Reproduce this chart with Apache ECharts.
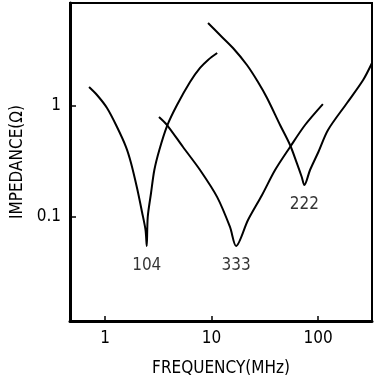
<!DOCTYPE html>
<html>
<head>
<meta charset="utf-8">
<script src="https://cdn.jsdelivr.net/npm/echarts@6/dist/echarts.min.js"></script>
<style>
  html, body { margin: 0; padding: 0; background: #fff; }
  #chart { width: 376px; height: 383px; }
</style>
</head>
<body>
<div id="chart"></div>
<script>
// --- Data (frequency MHz, impedance ohm) ---
const curve104F = [0.708, 0.841, 1.044, 1.296, 1.575, 1.754, 1.998, 2.225, 2.401, 2.464, 2.518, 2.704, 2.904, 3.234, 3.82, 4.74, 6.28, 7.8, 9.27, 11.3];
const curve104Z = [1.483, 1.256, 0.959, 0.647, 0.427, 0.307, 0.1825, 0.111, 0.0763, 0.0548, 0.1, 0.1645, 0.265, 0.402, 0.66, 1.02, 1.645, 2.2, 2.6, 3.0];

const curve333F = [3.21, 3.82, 5.4, 7.8, 11.3, 14.9, 17.0, 22.0, 29.8, 39.5, 54.6, 75.5, 111];
const curve333Z = [0.796, 0.674, 0.427, 0.265, 0.151, 0.0813, 0.0548, 0.094, 0.158, 0.265, 0.427, 0.674, 1.04];

const curve222F = [9.27, 12.0, 15.9, 21.5, 27.3, 33.2, 44.0, 54.6, 63.1, 70.3, 74.3, 84.1, 100.7, 124, 187, 265, 321];
const curve222Z = [5.59, 4.36, 3.33, 2.34, 1.645, 1.18, 0.674, 0.445, 0.307, 0.229, 0.194, 0.265, 0.385, 0.608, 1.064, 1.715, 2.44];

// resonance labels, placed under each curve's minimum
const dipNames = ['104', '333', '222'];
const dipF = [2.464, 17.0, 74.3];
const dipZ = [0.0548, 0.0548, 0.194];

const txtFont = "'Liberation Sans Narrow', 'DejaVu Sans Condensed', 'Liberation Sans', sans-serif";

const chart = echarts.init(document.getElementById('chart'));

const toPairs = (f, z) => f.map((v, i) => [v, z[i]]);

const lineSeries = (f, z) => ({
  type: 'line',
  data: toPairs(f, z),
  smooth: 0.3,
  symbol: 'none',
  lineStyle: { color: '#000', width: 2 },
  clip: true
});

const option = {
  animation: false,
  backgroundColor: '#fff',
  grid: {
    left: 70,
    right: 4,
    top: 3,
    bottom: 62,
    show: true,
    borderColor: '#000',
    borderWidth: 2
  },
  xAxis: {
    type: 'log',
    logBase: 10,
    min: 0.469,
    max: 321,
    name: 'FREQUENCY(MHz)',
    nameLocation: 'middle',
    nameGap: 39,
    nameTextStyle: { color: '#000', fontSize: 17, fontFamily: txtFont },
    axisLine: { lineStyle: { color: '#000', width: 3 } },
    axisTick: { inside: true, length: 5, lineStyle: { color: '#000', width: 1.5 } },
    axisLabel: {
      color: '#000', fontSize: 17, fontFamily: txtFont, margin: 9,
      showMinLabel: false, showMaxLabel: false
    },
    splitLine: { show: false },
    minorTick: { show: false }
  },
  yAxis: {
    type: 'log',
    logBase: 10,
    min: 0.01156,
    max: 8.47,
    name: 'IMPEDANCE(Ω)',
    nameLocation: 'middle',
    nameGap: 41,
    nameTextStyle: { color: '#000', fontSize: 17, fontFamily: txtFont },
    axisLine: { lineStyle: { color: '#000', width: 3 } },
    axisTick: { inside: true, length: 6, lineStyle: { color: '#000', width: 1.5 } },
    axisLabel: {
      color: '#000', fontSize: 17, fontFamily: txtFont, margin: 9,
      showMinLabel: false, showMaxLabel: false
    },
    splitLine: { show: false },
    minorTick: { show: false }
  },
  series: [
    lineSeries(curve104F, curve104Z),
    lineSeries(curve333F, curve333Z),
    lineSeries(curve222F, curve222Z),
    {
      type: 'scatter',
      data: dipF.map((f, i) => ({ value: [f, dipZ[i]], name: dipNames[i] })),
      symbolSize: 1,
      itemStyle: { color: 'rgba(0,0,0,0)' },
      label: {
        show: true,
        position: 'bottom',
        distance: 11,
        formatter: '{b}',
        color: '#000',
        fontSize: 17,
        fontFamily: txtFont
      }
    }
  ]
};

chart.setOption(option);
</script>
</body>
</html>
